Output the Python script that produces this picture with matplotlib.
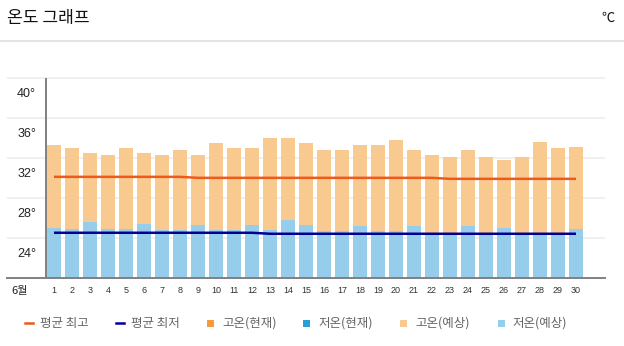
import matplotlib
matplotlib.use("Agg")
import matplotlib.pyplot as plt
from matplotlib.lines import Line2D
from matplotlib.patches import Rectangle
import numpy as np

# ---- data -------------------------------------------------------------
days = list(range(1, 31))
day_labels = [str(d) for d in days]
month_label = "6월"

high_forecast = [33.3, 33.0, 32.5, 32.3, 33.0, 32.5, 32.3, 32.8, 32.3, 33.5,
                 33.0, 33.0, 34.0, 34.0, 33.5, 32.8, 32.8, 33.3, 33.3, 33.8,
                 32.8, 32.3, 32.1, 32.8, 32.1, 31.8, 32.1, 33.6, 33.0, 33.1]
low_forecast = [25.0, 24.9, 25.6, 24.9, 24.9, 25.4, 24.8, 24.8, 25.3, 24.8,
                24.8, 25.3, 24.8, 25.8, 25.3, 24.7, 24.7, 25.2, 24.7, 24.7,
                25.2, 24.4, 24.4, 25.2, 24.4, 25.0, 24.4, 24.4, 24.4, 24.9]
high_current = []
low_current = []
avg_high = [30.1] * 8 + [30.0] * 14 + [29.9] * 8
avg_low = [24.5] * 12 + [24.4] * 18

y_ticks = [24, 28, 32, 36, 40]
y_tick_labels = ["24°", "28°", "32°", "36°", "40°"]

legend_labels = ["평균 최고", "평균 최저", "고온(현재)", "저온(현재)", "고온(예상)", "저온(예상)"]

# ---- styling ----------------------------------------------------------
KR = ["Noto Sans CJK KR", "DejaVu Sans"]
NUM = ["Liberation Sans", "DejaVu Sans"]
C_HIGH_NOW = "#F8993A"
C_LOW_NOW = "#2A9FD6"
C_HIGH_FC = "#F8CA90"
C_LOW_FC = "#96CDEB"
C_AVG_HIGH = "#EE5A1C"
C_AVG_LOW = "#000096"
C_AXIS = "#808080"
C_GRID = "#EEEEEE"

W, H = 624, 346
fig = plt.figure(figsize=(W / 100, H / 100), dpi=100)


def fx(px):
    return px / W


def fy(py):
    return 1 - py / H


# plot area in pixels
ax_l, ax_r, ax_b, ax_t = 7, 605, 277.7, 73
ax = fig.add_axes([fx(ax_l), fy(ax_b), fx(ax_r) - fx(ax_l), fy(ax_t) - fy(ax_b)])
slot = 18.0
first_center = 54.0
ax.set_xlim(1 + (ax_l - first_center) / slot, 1 + (ax_r - first_center) / slot)
ax.set_ylim(20, 40.5)

for s in ["top", "right", "left"]:
    ax.spines[s].set_visible(False)
ax.spines["bottom"].set_color(C_AXIS)
ax.spines["bottom"].set_linewidth(1.4)
ax.spines["bottom"].set_zorder(6)

ax.set_yticks(y_ticks)
ax.set_yticklabels([])
ax.tick_params(axis="both", length=0)
ax.set_xticks([])
ax.yaxis.grid(True, color=C_GRID, linewidth=1.2)
ax.set_axisbelow(True)

bw = 14 / slot
ax.bar(days, np.array(high_forecast) - 20, bottom=20, width=bw, color=C_HIGH_FC, zorder=2)
ax.bar(days, np.array(low_forecast) - 20, bottom=20, width=bw, color=C_LOW_FC, zorder=3)
if high_current:
    ax.bar(days[:len(high_current)], np.array(high_current) - 20, bottom=20, width=bw,
           color=C_HIGH_NOW, zorder=2)
if low_current:
    ax.bar(days[:len(low_current)], np.array(low_current) - 20, bottom=20, width=bw,
           color=C_LOW_NOW, zorder=3)

ax.plot(days, avg_high, color=C_AVG_HIGH, linewidth=1.8, zorder=4, solid_capstyle="butt")
ax.plot(days, avg_low, color=C_AVG_LOW, linewidth=1.8, zorder=4, solid_capstyle="butt")

# vertical value axis
x_axis = 1 + (45.7 - first_center) / slot
ax.plot([x_axis, x_axis], [20, 40], color=C_AXIS, linewidth=1.4, zorder=6,
        solid_capstyle="butt")

# value labels sit just below their gridlines
for v, lab in zip(y_ticks, y_tick_labels):
    ax.text(0.0, v - 1.58, lab, ha="right", va="center", fontsize=9,
            family=NUM, color="#222222", clip_on=False)

# day labels
for d, lab in zip(days, day_labels):
    ax.text(d, 20 - 1.3, lab, ha="center", va="center", fontsize=6.5,
            family=NUM, color="#333333", clip_on=False)

fig.text(fx(19.5), fy(290.7), month_label, ha="center", va="center",
         fontsize=8, family=KR, color="#222222")

# header
fig.text(fx(7), fy(17.5), "온도 그래프", ha="left", va="center", fontsize=12.3,
         family=KR, color="#111111")
fig.text(fx(615), fy(18), "℃", ha="right", va="center", fontsize=9.5,
         family=KR, color="#111111")
fig.add_artist(Line2D([0, 1], [fy(41.3), fy(41.3)], transform=fig.transFigure,
                      color="#DDDDDD", linewidth=1.1))

# legend
leg_y = 323
leg_items = [
    ("line", C_AVG_HIGH, 25, 40),
    ("line", C_AVG_LOW, 116, 131),
    ("box", C_HIGH_NOW, 207, 222),
    ("box", C_LOW_NOW, 303, 318),
    ("box", C_HIGH_FC, 400, 415),
    ("box", C_LOW_FC, 498, 512),
]
for (kind, col, hx, tx), lab in zip(leg_items, legend_labels):
    if kind == "line":
        fig.add_artist(Line2D([fx(hx), fx(hx + 8)], [fy(leg_y), fy(leg_y)],
                              transform=fig.transFigure, color=col, linewidth=1.8))
    else:
        fig.add_artist(Rectangle((fx(hx), fy(leg_y + 3.5)), 7 / W, 7 / H,
                                 transform=fig.transFigure, color=col, linewidth=0))
    fig.text(fx(tx), fy(leg_y), lab, ha="left", va="center", fontsize=9,
             family=KR, color="#666666")

fig.savefig("out.png", dpi=100)
